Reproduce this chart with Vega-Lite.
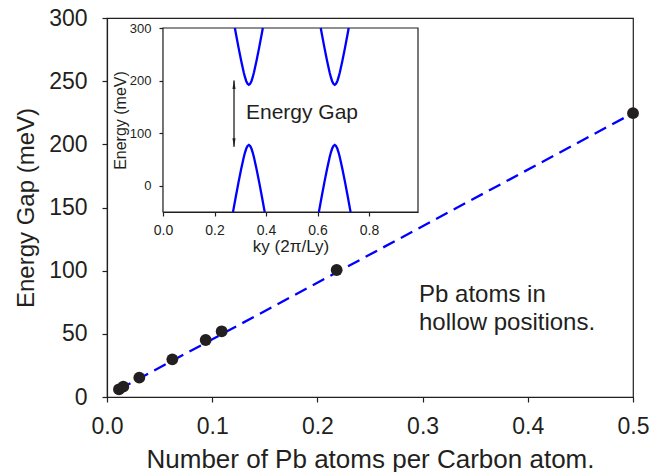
{
  "$schema": "https://vega.github.io/schema/vega-lite/v6.json",
  "width": 526,
  "height": 379,
  "autosize": "none",
  "padding": {"left": 107, "top": 18, "right": 20, "bottom": 75},
  "config": {
    "font": "Liberation Sans",
    "view": {"stroke": "#231f20", "strokeWidth": 1.2},
    "axis": {
      "grid": false,
      "domainColor": "#231f20",
      "domainWidth": 1.2,
      "tickColor": "#231f20",
      "tickWidth": 1.2,
      "labelColor": "#231f20",
      "titleColor": "#231f20",
      "labelFont": "Liberation Sans",
      "titleFont": "Liberation Sans",
      "titleFontWeight": "normal"
    }
  },
  "datasets": {
    "gap": [
      {"atoms": 0.0114, "gap": 6.1},
      {"atoms": 0.0155, "gap": 8.2},
      {"atoms": 0.0307, "gap": 15.3},
      {"atoms": 0.0621, "gap": 29.8},
      {"atoms": 0.0938, "gap": 45.1},
      {"atoms": 0.109, "gap": 52.0},
      {"atoms": 0.2183, "gap": 100.5},
      {"atoms": 0.5, "gap": 224.7}
    ],
    "fit": [
      {"atoms": 0.0114, "gap": 6.0},
      {"atoms": 0.5, "gap": 224.7}
    ],
    "note": [
      {"atoms": 0.2966, "gap": 75.2, "text": "Pb atoms in\nhollow positions."}
    ],
    "frame": [
      {"ky": 0, "ky2": 0.99, "E": -50, "E2": 300}
    ],
    "bands": [
      {"band": "c1", "ky": 0.2790, "E": 300},
      {"band": "c1", "ky": 0.2833, "E": 288.6},
      {"band": "c1", "ky": 0.2933, "E": 262.7},
      {"band": "c1", "ky": 0.3033, "E": 238.0},
      {"band": "c1", "ky": 0.3133, "E": 215.8},
      {"band": "c1", "ky": 0.3183, "E": 206.4},
      {"band": "c1", "ky": 0.3233, "E": 198.8},
      {"band": "c1", "ky": 0.3283, "E": 193.8},
      {"band": "c1", "ky": 0.3333, "E": 192.0},
      {"band": "c1", "ky": 0.3383, "E": 193.8},
      {"band": "c1", "ky": 0.3433, "E": 198.8},
      {"band": "c1", "ky": 0.3483, "E": 206.4},
      {"band": "c1", "ky": 0.3533, "E": 215.8},
      {"band": "c1", "ky": 0.3633, "E": 238.0},
      {"band": "c1", "ky": 0.3733, "E": 262.7},
      {"band": "c1", "ky": 0.3833, "E": 288.6},
      {"band": "c1", "ky": 0.3876, "E": 300},
      {"band": "c2", "ky": 0.6124, "E": 300},
      {"band": "c2", "ky": 0.6167, "E": 288.6},
      {"band": "c2", "ky": 0.6267, "E": 262.7},
      {"band": "c2", "ky": 0.6367, "E": 238.0},
      {"band": "c2", "ky": 0.6467, "E": 215.8},
      {"band": "c2", "ky": 0.6517, "E": 206.4},
      {"band": "c2", "ky": 0.6567, "E": 198.8},
      {"band": "c2", "ky": 0.6617, "E": 193.8},
      {"band": "c2", "ky": 0.6667, "E": 192.0},
      {"band": "c2", "ky": 0.6717, "E": 193.8},
      {"band": "c2", "ky": 0.6767, "E": 198.8},
      {"band": "c2", "ky": 0.6817, "E": 206.4},
      {"band": "c2", "ky": 0.6867, "E": 215.8},
      {"band": "c2", "ky": 0.6967, "E": 238.0},
      {"band": "c2", "ky": 0.7067, "E": 262.7},
      {"band": "c2", "ky": 0.7167, "E": 288.6},
      {"band": "c2", "ky": 0.7210, "E": 300},
      {"band": "v1", "ky": 0.2717, "E": -50},
      {"band": "v1", "ky": 0.2733, "E": -45.9},
      {"band": "v1", "ky": 0.2833, "E": -19.1},
      {"band": "v1", "ky": 0.2933, "E": 6.8},
      {"band": "v1", "ky": 0.3033, "E": 31.5},
      {"band": "v1", "ky": 0.3133, "E": 53.7},
      {"band": "v1", "ky": 0.3183, "E": 63.1},
      {"band": "v1", "ky": 0.3233, "E": 70.7},
      {"band": "v1", "ky": 0.3283, "E": 75.7},
      {"band": "v1", "ky": 0.3333, "E": 77.5},
      {"band": "v1", "ky": 0.3383, "E": 75.7},
      {"band": "v1", "ky": 0.3433, "E": 70.7},
      {"band": "v1", "ky": 0.3483, "E": 63.1},
      {"band": "v1", "ky": 0.3533, "E": 53.7},
      {"band": "v1", "ky": 0.3633, "E": 31.5},
      {"band": "v1", "ky": 0.3733, "E": 6.8},
      {"band": "v1", "ky": 0.3833, "E": -19.1},
      {"band": "v1", "ky": 0.3933, "E": -45.9},
      {"band": "v1", "ky": 0.3949, "E": -50},
      {"band": "v2", "ky": 0.6051, "E": -50},
      {"band": "v2", "ky": 0.6067, "E": -45.9},
      {"band": "v2", "ky": 0.6167, "E": -19.1},
      {"band": "v2", "ky": 0.6267, "E": 6.8},
      {"band": "v2", "ky": 0.6367, "E": 31.5},
      {"band": "v2", "ky": 0.6467, "E": 53.7},
      {"band": "v2", "ky": 0.6517, "E": 63.1},
      {"band": "v2", "ky": 0.6567, "E": 70.7},
      {"band": "v2", "ky": 0.6617, "E": 75.7},
      {"band": "v2", "ky": 0.6667, "E": 77.5},
      {"band": "v2", "ky": 0.6717, "E": 75.7},
      {"band": "v2", "ky": 0.6767, "E": 70.7},
      {"band": "v2", "ky": 0.6817, "E": 63.1},
      {"band": "v2", "ky": 0.6867, "E": 53.7},
      {"band": "v2", "ky": 0.6967, "E": 31.5},
      {"band": "v2", "ky": 0.7067, "E": 6.8},
      {"band": "v2", "ky": 0.7167, "E": -19.1},
      {"band": "v2", "ky": 0.7267, "E": -45.9},
      {"band": "v2", "ky": 0.7283, "E": -50}
    ],
    "arrow": [
      {"ky": 0.2757, "E": 74, "E2": 200}
    ],
    "headTop": [
      {"ky": 0.2757, "E": 192.4}
    ],
    "headBottom": [
      {"ky": 0.2757, "E": 81.9}
    ],
    "insetLabel": [
      {"ky": 0.322, "E": 137.5, "text": "Energy Gap"}
    ]
  },
  "layer": [
    {
      "encoding": {
        "x": {
          "field": "atoms",
          "type": "quantitative",
          "scale": {"domain": [0, 0.5], "nice": false, "zero": false},
          "axis": {
            "orient": "bottom",
            "title": "Number of Pb atoms per Carbon atom.",
            "values": [0, 0.1, 0.2, 0.3, 0.4, 0.5],
            "format": ".1f",
            "labelFontSize": 23,
            "titleFontSize": 26,
            "tickSize": 5,
            "labelPadding": 13,
            "titlePadding": 8,
            "labelFlush": false
          }
        },
        "y": {
          "field": "gap",
          "type": "quantitative",
          "scale": {"domain": [0, 300], "nice": false},
          "axis": {
            "orient": "left",
            "title": "Energy Gap (meV)",
            "values": [0, 50, 100, 150, 200, 250, 300],
            "labelFontSize": 23,
            "titleFontSize": 24,
            "tickSize": 5,
            "labelPadding": 15,
            "titlePadding": 10
          }
        }
      },
      "layer": [
        {
          "data": {"name": "fit"},
          "mark": {"type": "line", "color": "#0000ff", "strokeWidth": 2.3, "strokeDash": [13, 7]}
        },
        {
          "data": {"name": "gap"},
          "mark": {"type": "circle", "color": "#231f20", "size": 140, "opacity": 1}
        },
        {
          "data": {"name": "note"},
          "mark": {"type": "text", "align": "left", "baseline": "alphabetic", "fontSize": 24, "lineHeight": 28, "lineBreak": "\n", "color": "#231f20"},
          "encoding": {"text": {"field": "text"}}
        }
      ]
    },
    {
      "encoding": {
        "x": {
          "field": "ky",
          "type": "quantitative",
          "scale": {"domain": [0, 0.99], "range": [56, 311], "nice": false, "zero": false},
          "axis": {
            "orient": "bottom",
            "offset": -185,
            "title": "ky (2π/Ly)",
            "values": [0, 0.2, 0.4, 0.6, 0.8],
            "format": ".1f",
            "labelFontSize": 14,
            "titleFontSize": 17,
            "tickSize": 4,
            "labelPadding": 7,
            "titlePadding": 1,
            "labelFlush": false
          }
        },
        "y": {
          "field": "E",
          "type": "quantitative",
          "scale": {"domain": [-50, 300], "range": [194, 10], "nice": false, "zero": false},
          "axis": {
            "orient": "left",
            "offset": -56,
            "title": "Energy (meV)",
            "values": [0, 100, 200, 300],
            "labelFontSize": 13,
            "titleFontSize": 16,
            "tickSize": 4,
            "labelPadding": 8,
            "titlePadding": 1
          }
        }
      },
      "layer": [
        {
          "data": {"name": "frame"},
          "mark": {"type": "rect", "fill": "white", "stroke": "#231f20", "strokeWidth": 1.2},
          "encoding": {"x2": {"field": "ky2"}, "y2": {"field": "E2"}}
        },
        {
          "data": {"name": "bands"},
          "mark": {"type": "line", "color": "#0000ff", "strokeWidth": 2.3},
          "encoding": {"detail": {"field": "band"}}
        },
        {
          "data": {"name": "arrow"},
          "mark": {"type": "rule", "color": "#231f20", "strokeWidth": 1.3},
          "encoding": {"y2": {"field": "E2"}}
        },
        {
          "data": {"name": "headTop"},
          "mark": {"type": "point", "filled": true, "opacity": 1, "color": "#231f20", "size": 81, "shape": "M-0.35,1L0,-1L0.35,1Z"}
        },
        {
          "data": {"name": "headBottom"},
          "mark": {"type": "point", "filled": true, "opacity": 1, "color": "#231f20", "size": 81, "shape": "M-0.35,-1L0,1L0.35,-1Z"}
        },
        {
          "data": {"name": "insetLabel"},
          "mark": {"type": "text", "align": "left", "baseline": "middle", "fontSize": 21, "color": "#231f20"},
          "encoding": {"text": {"field": "text"}}
        }
      ]
    }
  ],
  "resolve": {"scale": {"x": "independent", "y": "independent"}}
}
